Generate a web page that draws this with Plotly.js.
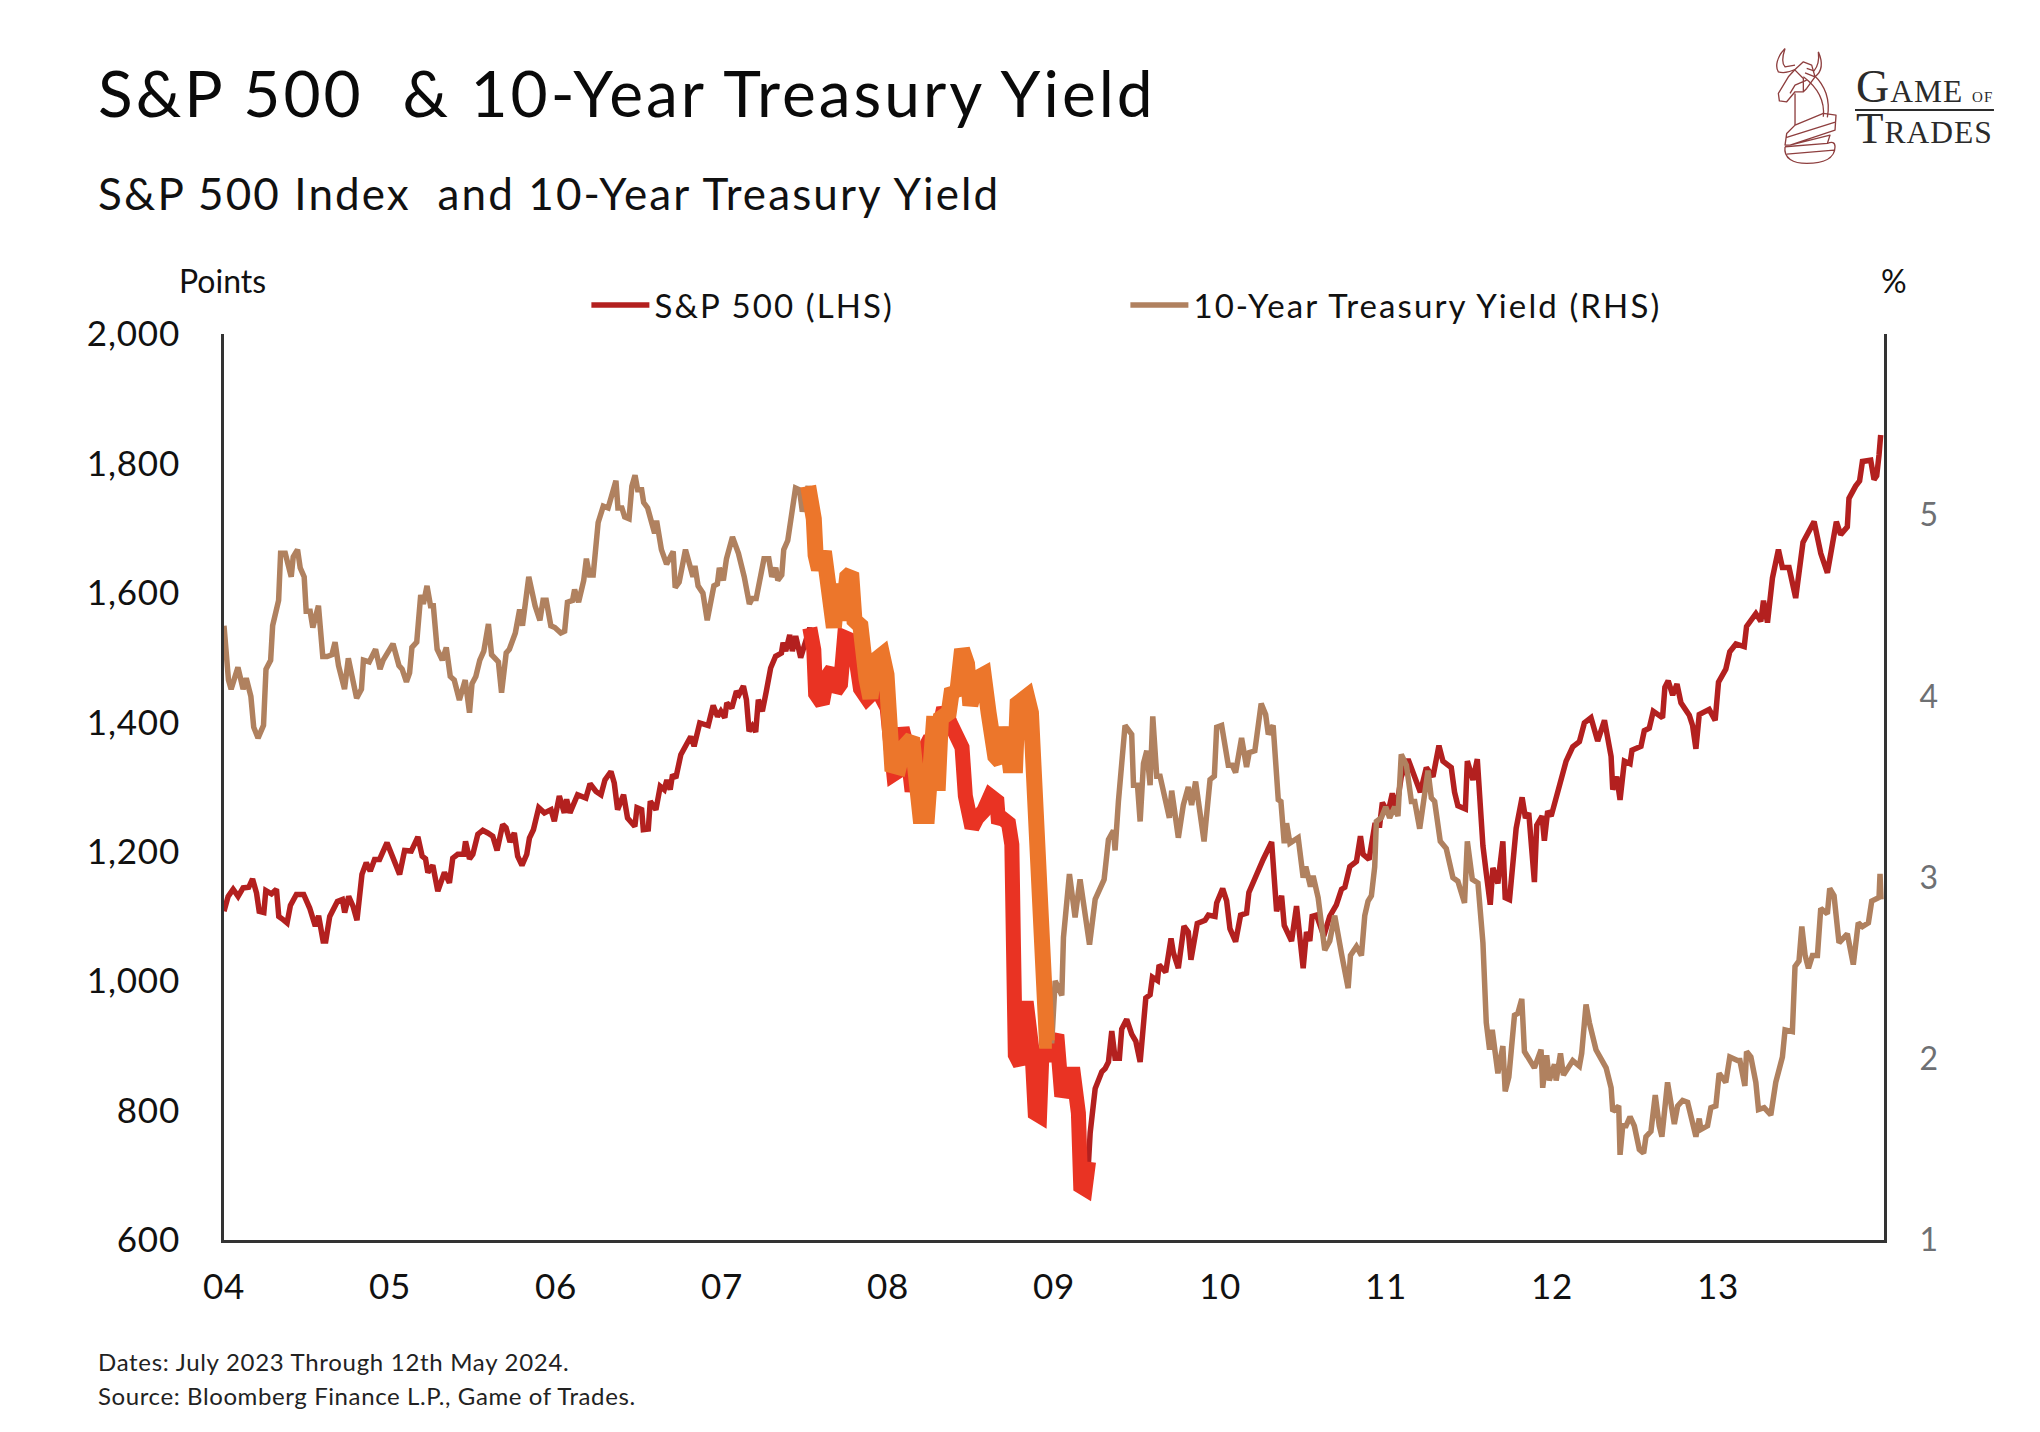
<!DOCTYPE html>
<html>
<head>
<meta charset="utf-8">
<script src="https://cdn.plot.ly/plotly-3.0.1.min.js"></script>
<style>
html,body{margin:0;padding:0;background:#fff}#chart{width:2040px;height:1432px}
.annotation[data-index="0"] text{letter-spacing:3px}
.annotation[data-index="1"] text{letter-spacing:2.1px}
.annotation[data-index="4"] text{letter-spacing:.7px}
.annotation[data-index="5"] text{letter-spacing:.6px}
.annotation[data-index="6"] text{letter-spacing:1px}
.legendtext{letter-spacing:2.1px}
.xtick text,.ytick text{letter-spacing:.8px}
</style>
</head>
<body>
<div id="chart"></div>
<script>
const spDates = [2004.000,2004.025,2004.055,2004.085,2004.115,2004.149,2004.172,2004.196,2004.212,2004.240,2004.252,2004.286,2004.316,2004.330,2004.356,2004.380,2004.400,2004.436,2004.480,2004.516,2004.550,2004.570,2004.597,2004.613,2004.637,2004.657,2004.683,2004.713,2004.727,2004.751,2004.777,2004.801,2004.831,2004.857,2004.881,2004.907,2004.937,2004.982,2005.018,2005.058,2005.088,2005.128,2005.168,2005.194,2005.214,2005.228,2005.258,2005.288,2005.328,2005.358,2005.378,2005.408,2005.444,2005.455,2005.479,2005.499,2005.529,2005.559,2005.589,2005.619,2005.645,2005.679,2005.699,2005.723,2005.749,2005.769,2005.795,2005.824,2005.840,2005.864,2005.896,2005.930,2005.970,2005.990,2006.020,2006.050,2006.064,2006.084,2006.130,2006.180,2006.205,2006.241,2006.271,2006.295,2006.331,2006.351,2006.371,2006.407,2006.431,2006.475,2006.488,2006.516,2006.526,2006.556,2006.568,2006.602,2006.628,2006.652,2006.668,2006.688,2006.702,2006.722,2006.752,2006.782,2006.812,2006.832,2006.866,2006.917,2006.947,2006.973,2006.993,2007.017,2007.029,2007.059,2007.087,2007.103,2007.129,2007.147,2007.163,2007.183,2007.203,2007.219,2007.243,2007.267,2007.293,2007.323,2007.358,2007.368,2007.384,2007.408,2007.424,2007.444,2007.474,2007.498,2007.529,2007.553,2007.564,2007.604,2007.634,2007.664,2007.684,2007.714,2007.738,2007.774,2007.804,2007.834,2007.874,2007.934,2007.995,2008.005,2008.035,2008.059,2008.085,2008.115,2008.145,2008.175,2008.205,2008.225,2008.255,2008.285,2008.335,2008.375,2008.416,2008.446,2008.466,2008.506,2008.536,2008.576,2008.616,2008.656,2008.666,2008.686,2008.726,2008.746,2008.756,2008.767,2008.797,2008.813,2008.837,2008.867,2008.887,2008.913,2008.927,2008.957,2009.017,2009.047,2009.097,2009.117,2009.147,2009.161,2009.187,2009.208,2009.218,2009.248,2009.288,2009.308,2009.328,2009.348,2009.368,2009.394,2009.408,2009.438,2009.468,2009.493,2009.519,2009.553,2009.579,2009.593,2009.623,2009.633,2009.673,2009.705,2009.719,2009.749,2009.783,2009.809,2009.825,2009.863,2009.910,2009.930,2009.970,2009.980,2010.016,2010.040,2010.060,2010.094,2010.124,2010.160,2010.174,2010.210,2010.260,2010.311,2010.341,2010.371,2010.387,2010.431,2010.461,2010.501,2010.521,2010.541,2010.555,2010.581,2010.625,2010.661,2010.701,2010.732,2010.752,2010.782,2010.822,2010.846,2010.862,2010.898,2010.932,2010.962,2010.978,2011.012,2011.038,2011.062,2011.092,2011.133,2011.173,2011.207,2011.243,2011.283,2011.319,2011.343,2011.393,2011.413,2011.433,2011.478,2011.490,2011.524,2011.550,2011.584,2011.604,2011.628,2011.644,2011.674,2011.704,2011.718,2011.744,2011.784,2011.820,2011.840,2011.860,2011.894,2011.908,2011.940,2011.954,2011.974,2011.995,2012.055,2012.085,2012.125,2012.165,2012.195,2012.235,2012.275,2012.316,2012.356,2012.366,2012.390,2012.410,2012.436,2012.470,2012.482,2012.536,2012.556,2012.586,2012.610,2012.666,2012.680,2012.700,2012.727,2012.753,2012.777,2012.827,2012.847,2012.867,2012.887,2012.947,2012.983,2013.003,2013.047,2013.071,2013.108,2013.158,2013.172,2013.228,2013.258,2013.274,2013.298,2013.328,2013.364,2013.388,2013.428,2013.468,2013.512,2013.579,2013.619,2013.659,2013.713,2013.739,2013.779,2013.789,2013.829,2013.853,2013.870,2013.920,2013.940,2013.956,2013.970,2013.980];
const spValues = [1108,1131,1142,1131,1144,1145,1158,1136,1108,1106,1140,1135,1142,1100,1095,1090,1117,1134,1134,1113,1085,1101,1062,1062,1100,1111,1123,1126,1106,1131,1116,1094,1165,1183,1170,1188,1188,1214,1188,1165,1202,1201,1223,1193,1189,1168,1179,1139,1168,1152,1190,1196,1196,1216,1189,1196,1227,1233,1229,1224,1202,1242,1237,1215,1229,1193,1179,1196,1221,1234,1268,1260,1265,1247,1286,1260,1281,1260,1288,1283,1305,1293,1288,1311,1324,1306,1265,1288,1252,1239,1268,1265,1234,1235,1278,1265,1301,1296,1311,1296,1319,1314,1350,1365,1378,1363,1399,1395,1426,1409,1417,1407,1430,1422,1448,1443,1456,1435,1386,1394,1385,1435,1417,1448,1484,1502,1507,1523,1510,1535,1510,1533,1500,1520,1546,1512,1444,1429,1471,1482,1448,1459,1531,1527,1504,1452,1437,1452,1422,1384,1320,1324,1391,1361,1293,1339,1286,1361,1376,1361,1422,1399,1373,1361,1286,1237,1252,1263,1286,1278,1244,1252,1244,1211,1052,886,871,958,958,894,796,792,886,886,917,822,856,856,796,683,679,721,766,834,860,865,875,923,881,881,926,941,918,907,875,974,979,1006,1001,1025,1014,1066,1044,1020,1085,1076,1033,1089,1094,1102,1100,1121,1143,1124,1081,1061,1102,1105,1137,1159,1188,1215,1108,1132,1086,1062,1116,1020,1076,1062,1100,1102,1070,1100,1118,1142,1145,1177,1185,1224,1196,1188,1241,1241,1276,1260,1290,1265,1316,1343,1316,1292,1330,1316,1364,1340,1330,1292,1271,1266,1340,1311,1343,1209,1167,1118,1175,1151,1216,1129,1126,1236,1284,1252,1260,1153,1241,1255,1217,1263,1255,1311,1340,1362,1370,1399,1407,1371,1403,1347,1296,1316,1280,1340,1336,1357,1363,1387,1391,1417,1407,1454,1464,1442,1459,1430,1411,1395,1359,1412,1420,1403,1462,1482,1509,1521,1517,1548,1568,1556,1588,1554,1623,1667,1639,1639,1592,1678,1710,1661,1631,1710,1690,1702,1746,1765,1773,1803,1805,1775,1781,1813,1844];

const yieldDates = [2004.000,2004.027,2004.043,2004.084,2004.115,2004.134,2004.162,2004.179,2004.205,2004.238,2004.253,2004.281,2004.293,2004.329,2004.341,2004.369,2004.405,2004.417,2004.443,2004.459,2004.483,2004.495,2004.519,2004.535,2004.569,2004.595,2004.621,2004.650,2004.669,2004.690,2004.726,2004.749,2004.799,2004.828,2004.840,2004.875,2004.913,2004.940,2004.959,2005.018,2005.054,2005.073,2005.099,2005.118,2005.132,2005.161,2005.185,2005.201,2005.223,2005.244,2005.261,2005.284,2005.315,2005.339,2005.363,2005.387,2005.418,2005.453,2005.479,2005.494,2005.517,2005.541,2005.565,2005.593,2005.612,2005.653,2005.672,2005.700,2005.719,2005.755,2005.781,2005.798,2005.836,2005.874,2005.903,2005.922,2005.941,2005.969,2005.993,2006.029,2006.052,2006.069,2006.100,2006.112,2006.136,2006.167,2006.183,2006.202,2006.224,2006.254,2006.285,2006.314,2006.361,2006.373,2006.397,2006.414,2006.440,2006.457,2006.476,2006.492,2006.516,2006.528,2006.552,2006.594,2006.606,2006.635,2006.666,2006.706,2006.718,2006.742,2006.780,2006.825,2006.837,2006.856,2006.885,2006.911,2006.951,2006.972,2006.984,2007.008,2007.027,2007.063,2007.099,2007.134,2007.165,2007.182,2007.206,2007.222,2007.253,2007.282,2007.300,2007.324,2007.336,2007.360,2007.372,2007.396,2007.443,2007.467,2007.484,2007.519,2007.553,2007.564,2007.584,2007.614,2007.634,2007.674,2007.698,2007.724,2007.754,2007.778,2007.798,2007.834,2007.870,2007.894,2007.924,2007.965,2007.991,2008.015,2008.025,2008.065,2008.095,2008.145,2008.175,2008.195,2008.235,2008.265,2008.279,2008.299,2008.319,2008.366,2008.386,2008.416,2008.446,2008.476,2008.496,2008.536,2008.576,2008.606,2008.646,2008.676,2008.706,2008.736,2008.766,2008.781,2008.837,2008.861,2008.877,2008.901,2008.927,2008.957,2008.987,2009.007,2009.047,2009.057,2009.093,2009.127,2009.157,2009.188,2009.214,2009.248,2009.302,2009.328,2009.358,2009.368,2009.388,2009.428,2009.468,2009.479,2009.503,2009.519,2009.539,2009.559,2009.579,2009.595,2009.619,2009.639,2009.669,2009.695,2009.709,2009.749,2009.779,2009.809,2009.829,2009.853,2009.904,2009.940,2009.966,2009.980,2010.010,2010.050,2010.074,2010.094,2010.130,2010.160,2010.176,2010.210,2010.248,2010.275,2010.291,2010.320,2010.351,2010.367,2010.387,2010.401,2010.421,2010.471,2010.501,2010.517,2010.545,2010.561,2010.591,2010.631,2010.661,2010.691,2010.732,2010.772,2010.786,2010.822,2010.852,2010.872,2010.892,2010.912,2010.932,2010.942,2010.972,2010.998,2011.022,2011.052,2011.072,2011.092,2011.123,2011.153,2011.173,2011.203,2011.253,2011.273,2011.293,2011.327,2011.363,2011.403,2011.433,2011.473,2011.490,2011.520,2011.554,2011.584,2011.604,2011.624,2011.640,2011.674,2011.704,2011.718,2011.740,2011.774,2011.794,2011.818,2011.834,2011.894,2011.934,2011.944,2011.968,2011.984,2012.015,2012.025,2012.051,2012.069,2012.125,2012.165,2012.179,2012.205,2012.225,2012.265,2012.326,2012.356,2012.366,2012.402,2012.410,2012.426,2012.446,2012.470,2012.496,2012.526,2012.552,2012.566,2012.596,2012.622,2012.646,2012.662,2012.696,2012.717,2012.737,2012.757,2012.787,2012.817,2012.847,2012.867,2012.887,2012.897,2012.937,2012.957,2012.987,2013.007,2013.047,2013.071,2013.118,2013.132,2013.162,2013.172,2013.198,2013.228,2013.244,2013.278,2013.318,2013.348,2013.388,2013.404,2013.448,2013.464,2013.488,2013.505,2013.525,2013.545,2013.569,2013.599,2013.619,2013.659,2013.673,2013.699,2013.729,2013.779,2013.815,2013.845,2013.870,2013.906,2013.926,2013.970,2013.976,2013.982];
const yieldValues = [4.39,4.09,4.04,4.16,4.04,4.10,4.00,3.83,3.77,3.84,4.15,4.20,4.39,4.53,4.79,4.79,4.66,4.77,4.81,4.71,4.66,4.47,4.47,4.38,4.50,4.22,4.22,4.23,4.30,4.17,4.04,4.21,3.99,4.04,4.20,4.19,4.26,4.15,4.20,4.29,4.17,4.15,4.08,4.13,4.27,4.30,4.56,4.51,4.61,4.50,4.50,4.26,4.20,4.27,4.11,4.09,3.98,4.09,3.91,4.07,4.11,4.20,4.25,4.40,4.23,4.19,4.02,4.24,4.26,4.35,4.48,4.39,4.66,4.50,4.42,4.53,4.53,4.39,4.38,4.35,4.36,4.52,4.53,4.59,4.52,4.64,4.76,4.67,4.67,4.96,5.05,5.04,5.19,5.04,5.04,4.99,4.98,5.16,5.22,5.14,5.14,5.07,5.04,4.90,4.97,4.81,4.73,4.80,4.60,4.63,4.81,4.66,4.72,4.61,4.57,4.42,4.61,4.62,4.71,4.64,4.76,4.88,4.79,4.66,4.51,4.54,4.54,4.63,4.76,4.76,4.66,4.71,4.64,4.67,4.81,4.86,5.15,5.14,5.02,5.16,4.98,4.78,4.70,4.80,4.66,4.38,4.62,4.42,4.66,4.68,4.42,4.39,4.10,3.99,4.20,4.23,4.12,3.85,3.62,3.61,3.72,3.77,3.50,3.34,3.34,3.64,3.89,3.48,3.88,3.91,4.04,4.01,4.26,4.18,3.95,4.10,4.12,3.91,3.67,3.64,3.83,3.62,3.62,3.96,4.00,3.91,3.56,2.88,2.53,2.10,2.10,2.43,2.35,2.67,3.02,2.78,2.99,2.80,2.63,2.88,2.99,3.21,3.26,3.15,3.42,3.84,3.79,3.51,3.51,3.31,3.63,3.70,3.51,3.89,3.56,3.56,3.45,3.33,3.48,3.22,3.40,3.50,3.40,3.53,3.20,3.54,3.56,3.83,3.84,3.62,3.62,3.58,3.77,3.61,3.69,3.70,3.96,3.90,3.79,3.84,3.43,3.42,3.19,3.30,3.19,3.22,3.00,3.06,2.95,3.01,2.89,2.60,2.65,2.79,2.58,2.39,2.57,2.62,2.57,2.79,2.87,2.90,3.06,3.31,3.33,3.39,3.33,3.39,3.34,3.68,3.62,3.42,3.42,3.27,3.59,3.44,3.42,3.20,3.16,3.00,2.98,2.86,3.20,2.99,2.97,2.64,2.20,2.05,2.16,1.92,2.07,1.82,1.90,2.24,2.25,2.33,2.04,1.95,2.05,1.84,2.02,1.88,1.97,1.88,2.03,1.91,1.99,1.96,2.03,2.30,2.20,2.05,1.95,1.84,1.71,1.74,1.47,1.63,1.63,1.68,1.63,1.50,1.48,1.57,1.60,1.80,1.63,1.57,1.87,1.74,1.64,1.74,1.77,1.76,1.64,1.57,1.67,1.61,1.63,1.73,1.74,1.92,1.87,2.01,1.99,1.99,1.85,2.04,2.01,1.87,1.72,1.73,1.69,1.87,2.01,2.16,2.15,2.51,2.54,2.73,2.57,2.50,2.57,2.57,2.83,2.80,2.94,2.90,2.64,2.69,2.52,2.75,2.73,2.75,2.87,2.89,3.02,2.88];

const spCrashSpan = [2007.52, 2009.21];
const yieldCrashSpan = [2007.51, 2008.99];
const yearTicks = [2004,2005,2006,2007,2008,2009,2010,2011,2012,2013];
const yearLabels = ["04","05","06","07","08","09","10","11","12","13"];
const leftTicks = [600,800,1000,1200,1400,1600,1800,2000];
const rightTicks = [1,2,3,4,5];

const W = 2040, H = 1432;
const L = 223.5, R = 1884, T = 334, B = 1240.5;
const px = x => (x - L) / (R - L);
const py = y => (B - y) / (B - T);

function within(dates, values, span) {
  const xs = [], ys = [];
  dates.forEach((d, i) => { if (d >= span[0] && d <= span[1]) { xs.push(d); ys.push(values[i]); } });
  return {xs, ys};
}
const spCrash = within(spDates, spValues, spCrashSpan);
const yieldCrash = within(yieldDates, yieldValues, yieldCrashSpan);

const FONT = 'Lato, sans-serif';
const traces = [
  {x: spDates, y: spValues, name: 'S&P 500 (LHS)', mode: 'lines', yaxis: 'y',
   line: {color: '#B3201F', width: 5.5}},
  {x: yieldDates, y: yieldValues, name: '10-Year Treasury Yield (RHS)', mode: 'lines', yaxis: 'y2',
   line: {color: '#B0815F', width: 5.5}},
  {x: spCrash.xs, y: spCrash.ys, mode: 'lines', yaxis: 'y', showlegend: false,
   line: {color: '#E93323', width: 15}},
  {x: yieldCrash.xs, y: yieldCrash.ys, mode: 'lines', yaxis: 'y2', showlegend: false,
   line: {color: '#EC762B', width: 16}}
];

function label(text, x, y, size, opts) {
  return Object.assign({text, x: px(x), y: py(y), xref: 'paper', yref: 'paper', showarrow: false,
    xanchor: 'left', yanchor: 'middle', align: 'left',
    font: {family: FONT, size, color: '#111'}}, opts || {});
}
const SERIF = '"Liberation Serif", serif';
const annotations = [
  label('S&amp;P 500\u00A0 &amp; 10-Year Treasury Yield', 95.5, 92.5, 64, {font: {family: FONT, size: 64, color: '#0a0a0a'}}),
  label('S&amp;P 500 Index\u00A0 and 10-Year Treasury Yield', 95.5, 193, 44),
  label('Points', 222, 280, 32, {xanchor: 'center'}),
  label('%', 1894, 280, 32, {xanchor: 'center'}),
  label('Dates: July 2023 Through 12th May 2024.', 95, 1362, 24, {font: {family: FONT, size: 24, color: '#222'}}),
  label('Source: Bloomberg Finance L.P., Game of Trades.', 95, 1396, 24, {font: {family: FONT, size: 24, color: '#222'}}),
  label('<span style="font-size:46px">G</span>AME <span style="font-size:15px">OF</span><br><span style="font-size:45px">T</span>RADES', 1854, 107, 31.5, {font: {family: SERIF, size: 31.5, color: '#2b2b2b'}})
];

const logoSvg = '<svg xmlns="http://www.w3.org/2000/svg" viewBox="0 0 900 450" width="300" height="150">' +
 '<g fill="none" stroke="#8E3F3F" stroke-width="4" stroke-linejoin="round">' +
 '<path d="M135,55 C110,80 105,110 115,125 C130,130 150,125 165,118 M135,55 C125,85 125,100 135,110 L165,105"/>' +
 '<path d="M235,65 C250,100 245,125 225,140 L195,128 M235,65 C238,90 232,110 222,122 L200,115"/>' +
 '<path d="M165,118 L190,95 L215,105 L225,140 L200,175 L190,185 L165,185 L140,215 L118,212 L115,190 L145,140 Z"/>' +
 '<path d="M165,120 L190,145 L190,185 M150,190 L165,165 L200,150"/>' +
 '<path d="M190,140 C230,170 255,210 250,260 M222,135 C255,165 272,210 262,262 M165,190 L165,285"/>' +
 '<path d="M165,285 L250,250 L288,255 L285,300 L150,345 L135,345 L140,310 Z M140,322 L288,275 M150,345 L270,315 L262,340"/>' +
 '<path d="M135,350 C130,385 160,400 200,400 C250,400 285,385 285,350 C285,335 275,335 262,340 L135,350 M140,372 L282,360"/>' +
 '</g></svg>';

const layout = {
  width: W, height: H,
  paper_bgcolor: '#fff', plot_bgcolor: '#fff',
  margin: {l: L, r: W - R, t: T, b: H - B, pad: 0},
  showlegend: true,
  legend: {orientation: 'h', x: px(586), y: py(305), xanchor: 'left', yanchor: 'middle',
    bgcolor: 'rgba(0,0,0,0)', font: {family: FONT, size: 33, color: '#111'},
    itemwidth: 58, entrywidth: 466, entrywidthmode: 'pixels', traceorder: 'normal', itemclick: false},
  xaxis: {type: 'linear', range: [2004, 2014], tickmode: 'array', tickvals: yearTicks, ticktext: yearLabels,
    showgrid: false, zeroline: false, showline: true, linecolor: '#333', linewidth: 3, ticks: '',
    ticklabelstandoff: 14, tickfont: {family: FONT, size: 35, color: '#111'}},
  yaxis: {range: [600, 2000], tickmode: 'array', tickvals: leftTicks, tickformat: ',d',
    showgrid: false, zeroline: false, showline: true, linecolor: '#333', linewidth: 3, ticks: '',
    ticklabelstandoff: 34, tickfont: {family: FONT, size: 35, color: '#111'}},
  yaxis2: {range: [1, 6], overlaying: 'y', side: 'right', tickmode: 'array', tickvals: rightTicks,
    showgrid: false, zeroline: false, showline: true, linecolor: '#333', linewidth: 3, ticks: '',
    ticklabelstandoff: 26, tickfont: {family: FONT, size: 32, color: '#6E7073'}},
  annotations,
  shapes: [{type: 'line', xref: 'paper', yref: 'paper', x0: px(1855), x1: px(1994), y0: py(110), y1: py(110),
    line: {color: '#2b2b2b', width: 2}}],
  images: [{source: 'data:image/svg+xml;utf8,' + encodeURIComponent(logoSvg), xref: 'paper', yref: 'paper',
    x: px(1740), y: py(30), sizex: 300 / (R - L), sizey: 150 / (B - T), xanchor: 'left', yanchor: 'top',
    sizing: 'stretch', layer: 'above'}]
};

Plotly.newPlot('chart', traces, layout, {displayModeBar: false, staticPlot: true});
</script>
</body>
</html>
